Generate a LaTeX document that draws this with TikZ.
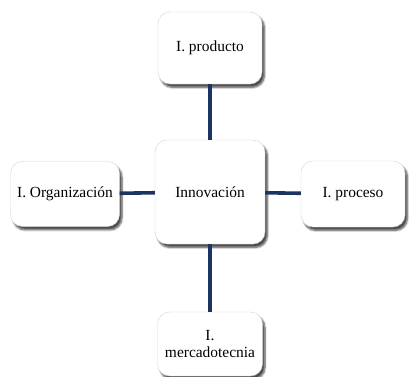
\documentclass[tikz,border=0pt]{standalone}
\usepackage{fontspec}
\setmainfont{Liberation Serif}
\usetikzlibrary{shadows.blur}

\definecolor{linkblue}{RGB}{28,52,96}

\tikzset{
	box/.style={draw=gray!35, fill=white, rounded corners=12bp, align=center,
		font=\fontsize{15.5}{18}\selectfont,
		blur shadow={shadow xshift=2.5bp, shadow yshift=-3.5bp, shadow blur steps=6, shadow opacity=70}},
	link/.style={linkblue, line width=3.6bp}
}

\begin{document}
\begin{tikzpicture}[x=1bp, y=1bp]
		\useasboundingbox (0, 0) rectangle (409, 377);

		\node[box, minimum width=110bp, minimum height=104bp] (inno)	at (210, 185) {Innovación};
		\node[box, minimum width=104bp, minimum height=72bp] (prod)	at (210, 329) {I. producto};
		\node[box, minimum width=109bp, minimum height=65bp] (org)	at (65, 183) {I. Organización};
		\node[box, minimum width=104bp, minimum height=66bp] (proc)	at (353, 183) {I. proceso};
		\node[box, minimum width=105bp, minimum height=64bp] (merc)	at (210, 33) {I.\\mercadotecnia};

		\draw[link]	(inno) -- (prod);
		\draw[link]	(inno) -- (org);
		\draw[link]	(inno) -- (proc);
		\draw[link]	(inno) -- (merc);
	\end{tikzpicture}
\end{document}
